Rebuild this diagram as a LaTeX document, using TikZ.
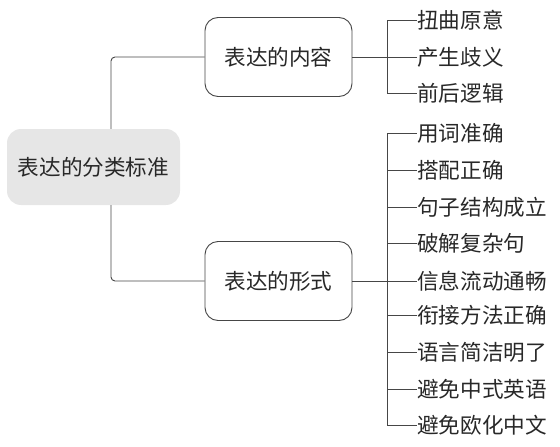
\documentclass[tikz,border=0pt]{standalone}
\usepackage{fontspec}
\setmainfont{Noto Sans CJK SC}
\usetikzlibrary{positioning}
\definecolor{rootgray}{RGB}{230,230,230}
\definecolor{linegray}{RGB}{70,70,70}
\definecolor{textgray}{RGB}{40,40,40}
\tikzstyle{root} = [rectangle, rounded corners=14pt, minimum width=173pt, minimum height=76pt, text centered, fill=rootgray, text=textgray]
\tikzstyle{branch} = [rectangle, rounded corners=13pt, minimum width=147pt, minimum height=79pt, text centered, draw=linegray, line width=0.9pt, fill=white, text=textgray]
\tikzstyle{leaf} = [anchor=west, inner sep=0pt, text=textgray]
\tikzstyle{link} = [draw=linegray, line width=0.9pt]
\begin{document}
\begin{tikzpicture}[x=1pt, y=-1pt, font=\fontsize{21.6}{26}\selectfont]
\useasboundingbox (0,0) rectangle (560,447);

% Root
\node (root) [root] at (93.5,167) {表达的分类标准};

% Branches
\node (content) [branch] at (278.5,57) {表达的内容};
\node (form) [branch] at (278.5,281) {表达的形式};
\coordinate (chub) at (387,57);
\coordinate (fhub) at (387,281);

% Content leaves
\node (c1) [leaf] at (417,20) {扭曲原意};
\node (c2) [leaf] at (417,57) {产生歧义};
\node (c3) [leaf] at (417,93) {前后逻辑};

% Form leaves
\node (f1) [leaf] at (417,133) {用词准确};
\node (f2) [leaf] at (417,170) {搭配正确};
\node (f3) [leaf] at (417,207) {句子结构成立};
\node (f4) [leaf] at (417,243) {破解复杂句};
\node (f5) [leaf] at (417,281) {信息流动通畅};
\node (f6) [leaf] at (417,315) {衔接方法正确};
\node (f7) [leaf] at (417,352) {语言简洁明了};
\node (f8) [leaf] at (417,389) {避免中式英语};
\node (f9) [leaf] at (417,425) {避免欧化中文};

% Root links
\draw [link, rounded corners=4pt] ([xshift=17.5pt]root.north) |- (content.west);
\draw [link, rounded corners=4pt] ([xshift=17.5pt]root.south) |- (form.west);

% Content links
\draw [link] (content.east) -- (c2.west);
\draw [link] (chub) |- (c1.west);
\draw [link] (chub) |- (c3.west);

% Form links
\draw [link] (form.east) -- (f5.west);
\draw [link] (fhub) |- (f1.west);
\draw [link] (fhub) |- (f2.west);
\draw [link] (fhub) |- (f3.west);
\draw [link] (fhub) |- (f4.west);
\draw [link] (fhub) |- (f6.west);
\draw [link] (fhub) |- (f7.west);
\draw [link] (fhub) |- (f8.west);
\draw [link] (fhub) |- (f9.west);

\end{tikzpicture}
\end{document}
